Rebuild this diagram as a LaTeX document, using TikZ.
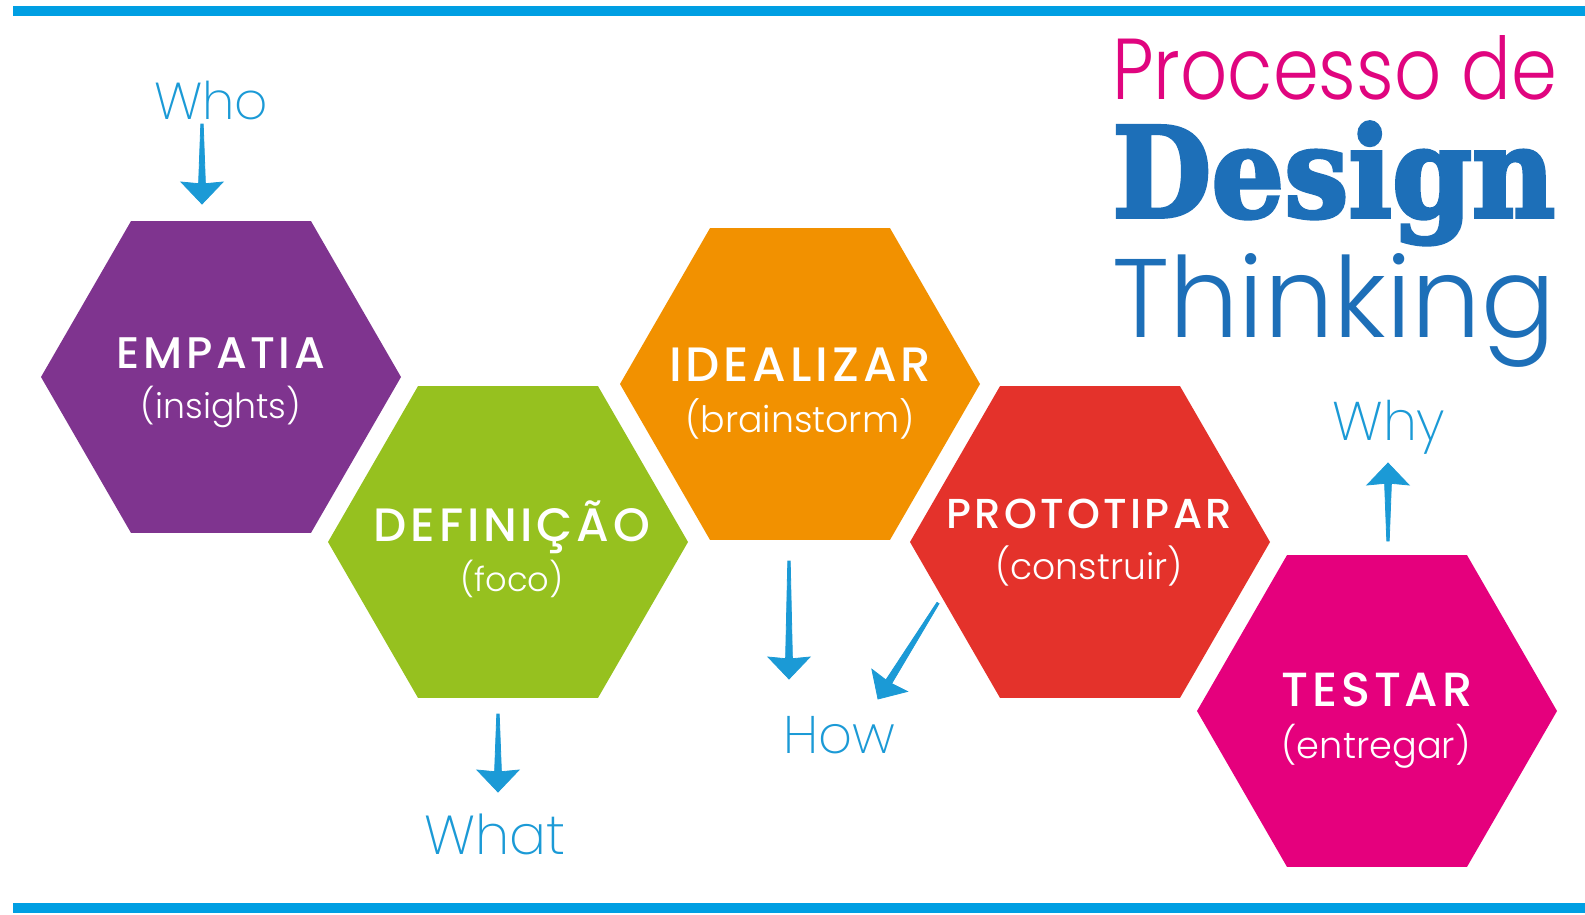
\documentclass[tikz,border=0pt]{standalone}
\usepackage{fontspec}
\usepackage{graphicx}
\setmainfont{Poppins}
\newfontfamily\lightfont{Poppins Light}
\newfontfamily\thinfont{Poppins ExtraLight}
\newfontfamily\capsfont{Poppins Medium}[LetterSpace=8]
\newfontfamily\slabfont{DejaVu Serif}[BoldFeatures={FakeBold=3}]
\usetikzlibrary{calc}
\definecolor{cpurple}{HTML}{7F348F}
\definecolor{cgreen}{HTML}{96C11F}
\definecolor{corange}{HTML}{F29100}
\definecolor{cred}{HTML}{E4322B}
\definecolor{cmagenta}{HTML}{E5007D}
\definecolor{ctitlemag}{HTML}{E0057F}
\definecolor{ctitleblue}{HTML}{1D6FB8}
\definecolor{chand}{HTML}{1B9AD6}
\definecolor{cbar}{HTML}{009FE3}
\newcommand{\fitw}[2]{\resizebox{#1pt}{!}{#2}}
\newcommand{\fitwh}[3]{\resizebox{#1pt}{#2pt}{#3}}
\newcommand{\hexa}[3]{%
  \coordinate (#1) at #2;
  \fill[#3] ($(#1)+(0:180)$) -- ($(#1)+(60:180)$) -- ($(#1)+(120:180)$) --
    ($(#1)+(180:180)$) -- ($(#1)+(240:180)$) -- ($(#1)+(300:180)$) -- cycle;}
% tapered arrow with solid head from named coordinate #1 to named coordinate #2
\newcommand{\harrow}[2]{%
  \coordinate (#1#2in) at ($(#2)!20pt!(#1)$);
  \coordinate (#1#2bk) at ($(#2)!22pt!(#1)$);
  \fill[arrowfill] ($(#1)!1.2pt!90:(#2)$) -- ($(#1)!1.2pt!-90:(#2)$) --
    ($(#1#2in)!3.4pt!90:(#1)$) -- ($(#1#2in)!3.4pt!-90:(#1)$) -- cycle;
  \fill[arrowfill] (#2) -- ($(#1#2bk)!21pt!90:(#1)$) -- (#1#2in) --
    ($(#1#2bk)!21pt!-90:(#1)$) -- cycle;}
\begin{document}
\begin{tikzpicture}[x=1pt,y=-1pt,
  lbl/.style={text=white,inner sep=0pt,anchor=base,font=\capsfont\fontsize{40}{44}\selectfont},
  sub/.style={text=white,inner sep=0pt,anchor=base,font=\lightfont\fontsize{36}{40}\selectfont},
  hand/.style={text=chand,inner sep=0pt,anchor=base,font=\thinfont\fontsize{56}{60}\selectfont},
  arrowfill/.style={fill=chand,draw=chand,line width=0.8pt,line join=miter},
  title/.style={inner sep=0pt,anchor=base west}]
\useasboundingbox (0,0) rectangle (1585,914);
\fill[white] (0,0) rectangle (1585,914);
% bars
\fill[cbar] (13,6) rectangle (1585,16);
\fill[cbar] (13,903) rectangle (1585,913);
% hexagons
\hexa{emp}{(221,377)}{cpurple}
\hexa{def}{(508,542)}{cgreen}
\hexa{ide}{(800,384)}{corange}
\hexa{pro}{(1090,542)}{cred}
\hexa{tes}{(1377,711)}{cmagenta}
% labels
\node[lbl] (empL) at (221,368) {\fitw{208}{EMPATIA}};
\node[sub] (empS) at (221,418) {\fitw{160}{(insights)}};
\node[lbl] (defL) at (512,541) {\fitw{276}{DEFINIÇÃO}};
\node[sub] (defS) at (512,591) {\fitw{103}{(foco)}};
\node[lbl] (ideL) at (800,381) {\fitw{262}{IDEALIZAR}};
\node[sub] (ideS) at (800,432) {\fitw{229}{(brainstorm)}};
\node[lbl] (proL) at (1089,528) {\fitw{286}{PROTOTIPAR}};
\node[sub] (proS) at (1089,579) {\fitw{187}{(construir)}};
\node[lbl] (tesL) at (1377,706) {\fitw{191}{TESTAR}};
\node[sub] (tesS) at (1376,758) {\fitw{189}{(entregar)}};
% handwritten words
\node[hand] (who) at (211,119) {\fitw{114}{Who}};
\node[hand] (what) at (495,854) {\fitw{141}{What}};
\node[hand] (how) at (839,753) {\fitw{112}{How}};
\node[hand] (why) at (1389,440) {\fitw{113}{Why}};
% arrows
\coordinate (whoA) at (202,124);
\coordinate (whoB) at (202,204);
\coordinate (whatA) at (498,714);
\coordinate (whatB) at (498,792);
\coordinate (howA) at (789,561);
\coordinate (howB) at (789,679);
\coordinate (howC) at (938,603);
\coordinate (howD) at (878,699);
\coordinate (whyA) at (1388,541);
\coordinate (whyB) at (1388,463);
\harrow{whoA}{whoB}
\harrow{whatA}{whatB}
\harrow{howA}{howB}
\harrow{howC}{howD}
\harrow{whyA}{whyB}
% title
\node[title,text=ctitlemag,font=\lightfont\fontsize{80}{84}\selectfont] (t1) at (1112,99) {\fitwh{445}{64}{Processo de}};
\node[title,text=ctitleblue,font=\slabfont\bfseries\fontsize{120}{124}\selectfont] (t2) at (1112,217) {\fitwh{443}{95}{Design}};
\node[title,text=ctitleblue,font=\lightfont\fontsize{110}{114}\selectfont] (t3) at (1112,337) {\fitwh{443}{84}{Thinking}};
\end{tikzpicture}
\end{document}
